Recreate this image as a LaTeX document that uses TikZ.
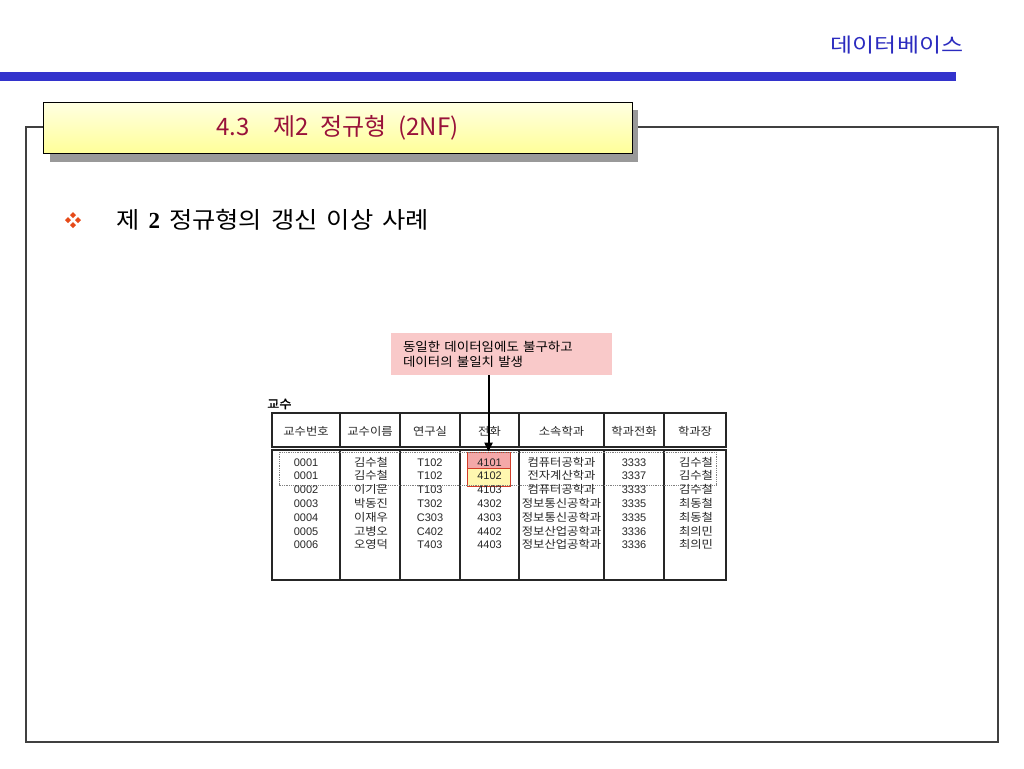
\documentclass[tikz,border=0pt]{standalone}
\usepackage{fontspec}
\setmainfont{Liberation Sans}
\newfontfamily\kr[WordSpace=2.2]{Noto Sans CJK KR}
\newfontfamily\krh[FakeStretch=1.2]{Noto Sans CJK KR}
\newfontfamily\krw[WordSpace=1.6,FakeStretch=1.1]{Noto Sans CJK KR}
\newfontfamily\krn[WordSpace=2,FakeStretch=1.08]{Noto Sans CJK KR}
\newfontfamily\krt[FakeStretch=1.12]{Noto Sans CJK KR}
\newfontfamily\krb[FakeBold=1.5,FakeStretch=1.1]{Noto Sans CJK KR}
\newfontfamily\tnr{Liberation Serif}
\usetikzlibrary{positioning,arrows.meta}

\definecolor{headblue}{HTML}{2B2BBF}
\definecolor{barblue}{HTML}{3333CC}
\definecolor{titlered}{HTML}{99123A}
\definecolor{titletop}{HTML}{FFFFE2}
\definecolor{titlebot}{HTML}{FFFF99}
\definecolor{bulletred}{HTML}{E64A19}
\definecolor{notepink}{HTML}{F9C9C9}
\definecolor{cellpink}{HTML}{F4A8A8}
\definecolor{cellyellow}{HTML}{FFF7B0}
\definecolor{cellred}{HTML}{D23C28}

\begin{document}
\begin{tikzpicture}[x=1pt,y=-1pt,
    tline/.style={draw=black!85, line width=1.3pt},
    tnum/.style={font=\fontsize{11}{13}\selectfont, text=black!85, inner sep=0pt, anchor=base},
    tkor/.style={font=\krt\fontsize{11}{13}\selectfont, text=black!85, inner sep=0pt, anchor=base},
    hot/.style={draw=cellred, line width=0.8pt, minimum width=43pt, inner sep=0pt}]
  \useasboundingbox (0,0) rectangle (1024,768);

  % page head
  \node(head) [text=headblue, font=\krh\fontsize{20}{20}\selectfont] at (897,45) {데이터베이스};
  \fill[barblue] (0,72) rectangle (956,81);

  % frame and title
  \draw[black!75, line width=1.2pt] (26,127) rectangle (998,742);
  \fill[black!40] (50,110) rectangle (638,162);
  \node(title) [draw, line width=1pt, top color=titletop, bottom color=titlebot, minimum width=589pt, minimum height=51pt, text=titlered, font=\kr\fontsize{24}{24}\selectfont] at (337.5,127.5) {4.3\ \ 제2 정규형 (2NF)};

  % bullet line
  \foreach \dx/\dy in {0/-5,5/0,0/5,-5/0}
    \fill[bulletred] ([shift={(\dx,\dy)}]73,220) +(0,-3) -- +(3,0) -- +(0,3) -- +(-3,0) -- cycle;
  \node(topic) [anchor=west, inner sep=0pt, font=\krw\fontsize{23}{23}\selectfont] at (116,220) {제 {\tnr\bfseries 2} 정규형의 갱신 이상 사례};

  % callout
  \node(note) [fill=notepink, minimum width=221pt, minimum height=42pt, text width=197pt, align=left, font=\krn\fontsize{12.5}{15}\selectfont] at (501.5,354) {동일한 데이터임에도 불구하고\\데이터의 불일치 발생};

  % table
  \node(tbl) [anchor=west, inner sep=0pt, font=\krb\fontsize{12}{12}\selectfont] at (267,404) {교수};
  \foreach \xa/\xb/\hd [count=\i] in {272/340/교수번호, 340/400/교수이름, 400/460/연구실, 460/519/전화, 519/604/소속학과, 604/664/학과전화, 664/726/학과장} {
    \draw[tline] (\xa,413) rectangle (\xb,447);
    \draw[tline] (\xa,450) rectangle (\xb,580);
    \node(h\i) [tkor, anchor=center] at ({(\xa+\xb)/2},431) {\hd};
  }
  \node(c4101) [hot, fill=cellpink, minimum height=16pt] at (488.5,460) {};
  \node(c4102) [hot, fill=cellyellow, minimum height=18pt] at (488.5,477) {};
  \draw[gray, densely dotted, line width=0.8pt] (279,452) rectangle (716,485);
  \foreach \a/\b/\c/\d/\e/\f/\g [count=\r] in {
      0001/김수철/T102/4101/컴퓨터공학과/3333/김수철,
      0001/김수철/T102/4102/전자계산학과/3337/김수철,
      0002/이기문/T103/4103/컴퓨터공학과/3333/김수철,
      0003/박동진/T302/4302/정보통신공학과/3335/최동철,
      0004/이재우/C303/4303/정보통신공학과/3335/최동철,
      0005/고병오/C402/4402/정보산업공학과/3336/최의민,
      0006/오영덕/T403/4403/정보산업공학과/3336/최의민} {
    \node(a\r) [tnum] at (306,{466+13.8*(\r-1)}) {\a};
    \node(b\r) [tkor] at (371,{466+13.8*(\r-1)}) {\b};
    \node(c\r) [tnum] at (430,{466+13.8*(\r-1)}) {\c};
    \node(d\r) [tnum] at (489.5,{466+13.8*(\r-1)}) {\d};
    \node(e\r) [tkor] at (561.5,{466+13.8*(\r-1)}) {\e};
    \node(f\r) [tnum] at (634,{466+13.8*(\r-1)}) {\f};
    \node(g\r) [tkor] at (696,{466+13.8*(\r-1)}) {\g};
  }

  % pointer
  \draw[-{Triangle[width=8pt,length=9pt]}, line width=2pt] (note.south -| c4101.north) -- (c4101.north);
\end{tikzpicture}
\end{document}
